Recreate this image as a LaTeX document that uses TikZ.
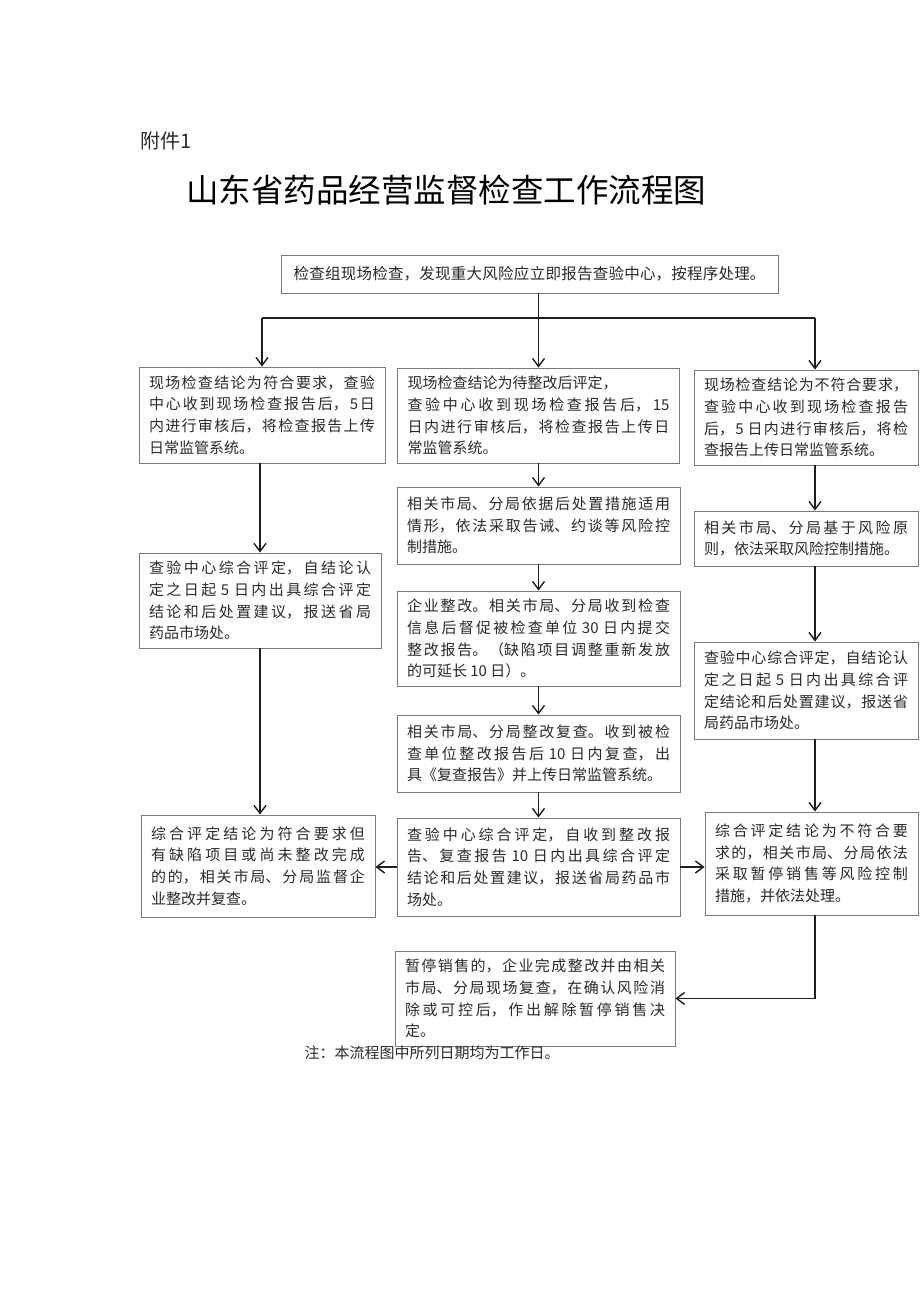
\documentclass[tikz,border=0pt]{standalone}
\usepackage{fontspec}
\setmainfont{Noto Sans CJK SC}
\XeTeXlinebreaklocale "zh"
\XeTeXlinebreakskip=0pt plus 3pt
\usetikzlibrary{arrows.meta,positioning}
\definecolor{fcLine}{HTML}{7A7A7A}
\definecolor{fcText}{HTML}{2A2A2A}
\definecolor{fcArrow}{HTML}{1E1E1E}
\newcommand\flowfont{\fontsize{15}{21.7}\selectfont\tolerance=10000\relax}
\tikzset{
  arr/.style={-{Straight Barb[length=8pt,width=12pt]}, line width=1.4pt, draw=fcArrow},
  bus/.style={line width=1.4pt, draw=fcArrow},
  flowbox/.style={draw=fcLine, line width=0.9pt, fill=white, text=fcText, align=justify, inner xsep=10pt, inner ysep=3pt, font=\flowfont}
}

\begin{document}
\begin{tikzpicture}[x=1pt,y=-1pt]
  \path[fill=white] (0,0) rectangle (920,1301);
  \node[anchor=west, text=fcText, font=\fontsize{20}{24}\selectfont] (annex) at (137,141) {附件1};
  \node[font=\fontsize{32.5}{38}\selectfont] (title) at (446,190) {山东省药品经营监督检查工作流程图};
  % start
  \node[flowbox, align=center, font=\fontsize{15.5}{20}\selectfont, text width=477pt, minimum height=38pt] (start) at (529.5,274) {检查组现场检查，发现重大风险应立即报告查验中心，按程序处理。};
  % left column
  \node[flowbox, text width=226pt, minimum height=96pt] (pass1) at (262,415) {现场检查结论为符合要求，查验\linebreak
    中心收到现场检查报告后，5日\linebreak
    内进行审核后，将检查报告上传\linebreak
    日常监管系统。};
  \node[flowbox, text width=222pt, minimum height=95pt] (pass2) at (260,600.5) {查验中心综合评定，自结论认\linebreak
    定之日起 5 日内出具综合评定\linebreak
    结论和后处置建议，报送省局\linebreak
    药品市场处。};
  \node[flowbox, text width=214pt, minimum height=102pt] (pass3) at (258,866) {综合评定结论为符合要求但\linebreak
    有缺陷项目或尚未整改完成\linebreak
    的的，相关市局、分局监督企\linebreak
    业整改并复查。};
  % middle column
  \node[flowbox, text width=262pt, minimum height=95pt] (fix1) at (538.5,415.5) {现场检查结论为待整改后评定，\newline
    查验中心收到现场检查报告后，15\linebreak
    日内进行审核后，将检查报告上传日\linebreak
    常监管系统。};
  \node[flowbox, text width=263pt, minimum height=77pt] (fix2) at (538.5,525.5) {相关市局、分局依据后处置措施适用\linebreak
    情形，依法采取告诫、约谈等风险控\linebreak
    制措施。};
  \node[flowbox, text width=263pt, minimum height=95pt] (fix3) at (538.5,638.5) {企业整改。相关市局、分局收到检查\linebreak
    信息后督促被检查单位 30 日内提交\linebreak
    整改报告。（缺陷项目调整重新发放\linebreak
    的可延长 10 日）。};
  \node[flowbox, text width=263pt, minimum height=77pt] (fix4) at (538.5,753.5) {相关市局、分局整改复查。收到被检\linebreak
    查单位整改报告后 10 日内复查，出\linebreak
    具《复查报告》并上传日常监管系统。};
  \node[flowbox, text width=263pt, minimum height=98pt] (fix5) at (538.5,867) {查验中心综合评定，自收到整改报\linebreak
    告、复查报告 10 日内出具综合评定\linebreak
    结论和后处置建议，报送省局药品市\linebreak
    场处。};
  \node[flowbox, text width=260pt, minimum height=95pt] (resume) at (535,998.5) {暂停销售的，企业完成整改并由相关\linebreak
    市局、分局现场复查，在确认风险消\linebreak
    除或可控后，作出解除暂停销售决\linebreak
    定。};
  % right column
  \node[flowbox, text width=204pt, minimum height=95pt] (fail1) at (806,417.5) {现场检查结论为不符合要求，\linebreak
    查验中心收到现场检查报告\linebreak
    后，5 日内进行审核后，将检\linebreak
    查报告上传日常监管系统。};
  \node[flowbox, text width=204pt, minimum height=55pt] (fail2) at (806,538.5) {相关市局、分局基于风险原\linebreak
    则，依法采取风险控制措施。};
  \node[flowbox, text width=204pt, minimum height=97pt] (fail3) at (806,690.5) {查验中心综合评定，自结论认\linebreak
    定之日起 5 日内出具综合评\linebreak
    定结论和后处置建议，报送省\linebreak
    局药品市场处。};
  \node[flowbox, text width=193pt, minimum height=103pt] (fail4) at (811.5,863.5) {综合评定结论为不符合要\linebreak
    求的，相关市局、分局依法\linebreak
    采取暂停销售等风险控制\linebreak
    措施，并依法处理。};
  \node[anchor=west, text=fcText, font=\flowfont] (note) at (301,1053) {注：本流程图中所列日期均为工作日。};
  % connectors
  \coordinate (busL) at (262,318);
  \coordinate (busR) at (815,318);
  \draw[bus] (busL) -- (busR);
  \draw[arr] (start.south -| fix1.north) -- (fix1.north);
  \draw[arr] (busL) -- (pass1.north);
  \draw[arr] (busR) -- (busR |- fail1.north);
  \draw[arr] (pass1.south -| pass2.north) -- (pass2.north);
  \draw[arr] (pass2.south) -- (pass2.south |- pass3.north);
  \foreach \a/\b in {fix1/fix2,fix2/fix3,fix3/fix4,fix4/fix5}{\draw[arr] (\a.south) -- (\b.north);}
  \foreach \a/\b in {fail1/fail2,fail2/fail3,fail3/fail4}{\draw[arr] (\a.south -| busR) -- (\b.north -| busR);}
  \draw[arr] (fix5.west) -- (fix5.west -| pass3.east);
  \draw[arr] (fix5.east) -- (fix5.east -| fail4.west);
  \draw[arr] (fail4.south -| busR) |- (resume.east);
\end{tikzpicture}
\end{document}
